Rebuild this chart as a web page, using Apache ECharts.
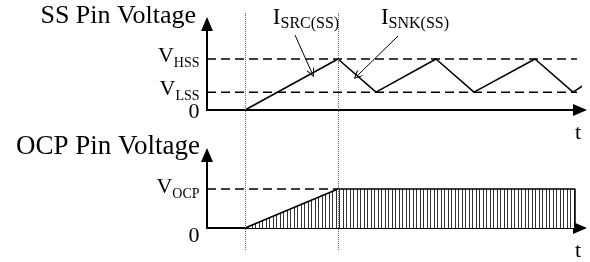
<!DOCTYPE html>
<html>
<head>
<meta charset="utf-8">
<script src="https://cdn.jsdelivr.net/npm/echarts@6/dist/echarts.min.js"></script>
<style>html,body{margin:0;padding:0;background:#fff}#chart{width:590px;height:262px}</style>
</head>
<body>
<div id="chart"></div>
<script>
// time in arbitrary units, voltages normalised to the upper threshold
var ssTime=[3.8,13.1,16.9,22.9,26.7,32.8,36.6,38.0];
var ssVolt=[0,1,0.35,1,0.35,1,0.35,0.53];
var ocpTime=[3.8,13.1,36.8,36.8];
var ocpVolt=[0,1,1,0];
var ssLevels=[0,0.35,1];
var ssLabels=[['0',''],['V','LSS'],['V','HSS']];
var ocpLevels=[0,1];
var ocpLabels=[['0',''],['V','OCP']];
var markTimes=[3.8,13.1];
var srcArrow=[[8.8,1.47],[10.5,0.725]];
var snkArrow=[[19.1,1.45],[15.0,0.667]];
var srcText=['I','SRC(SS)'];
var snkText=['I','SNK(SS)'];
var srcTextAt=[9.9,1.78];
var snkTextAt=[20.8,1.78];

var FONT='Liberation Serif';
function zip(a,b){var r=[];for(var i=0;i<a.length;i++)r.push([a[i],b[i]]);return r;}
function sub(p,big){
    var a=big?'V':'v',b=big?'S':'s';
    return p[1]?'{'+a+'|'+p[0]+'}{'+b+'|'+p[1]+'}':'{'+a+'|'+p[0]+'}';
}
var rich={
    v:{fontFamily:FONT,fontSize:22,color:'#000',verticalAlign:'bottom',padding:[0,0,3,0]},
    s:{fontFamily:FONT,fontSize:14,color:'#000',verticalAlign:'bottom'},
    V:{fontFamily:FONT,fontSize:23,color:'#000',verticalAlign:'bottom',padding:[0,0,3,0]},
    S:{fontFamily:FONT,fontSize:16,color:'#000',verticalAlign:'bottom'}
};
var hatch=document.createElement('canvas');
hatch.width=7;hatch.height=4;
var hc=hatch.getContext('2d');
hc.fillStyle='#fff';hc.fillRect(0,0,7,4);
hc.fillStyle='#333';hc.fillRect(0,0,1,4);hc.fillRect(3,0,1,4);

function xAx(idx,show){
    return {gridIndex:idx,type:'value',min:0,max:37.3,show:show,
        axisLine:{show:true,onZero:false,symbol:['none','triangle'],symbolSize:[12,14],lineStyle:{color:'#000',width:2}},
        axisTick:{show:false},axisLabel:{show:false},splitLine:{show:false},
        name:'t',nameLocation:'end',nameGap:-2,
        nameTextStyle:{fontFamily:FONT,fontSize:22,color:'#000',align:'center',verticalAlign:'top',padding:[12,0,0,0]}};
}
function yAx(idx,max,name,size,pad){
    return {gridIndex:idx,type:'value',min:0,max:max,
        axisLine:{show:true,symbol:['none','triangle'],symbolSize:[12,14],lineStyle:{color:'#000',width:2}},
        axisTick:{show:false},splitLine:{show:false},axisLabel:{show:false},
        name:name,nameLocation:'end',nameGap:8,
        nameTextStyle:{fontFamily:FONT,fontSize:size,color:'#000',align:'right',verticalAlign:'middle',padding:[0,pad,0,0]}};
}
var clear={color:'rgba(0,0,0,0)',opacity:1};
// level labels placed at x=0 of each panel, left of the y axis
function levelLabels(idx,levels,labels,zeroDy,subDy){
    return {type:'scatter',xAxisIndex:idx,yAxisIndex:idx,clip:false,silent:true,symbolSize:1,
        itemStyle:clear,
        label:{show:true,position:'left',distance:7,opacity:1,rich:rich,formatter:function(p){return sub(p.data.txt);}},
        data:levels.map(function(v,i){
            return {value:[0,v],txt:labels[i],label:{offset:[0,labels[i][1]?subDy:zeroDy]}};
        })};
}
var dashed={color:'#000',width:1.5,type:[9,5]};
var chevron='path://M0,0 L5,9 L4,9.6 L0,2.4 L-4,9.6 L-5,9 Z';

var option={
    animation:false,
    grid:[
        {left:207,top:24,width:373,height:86},
        {left:207,top:155,width:373,height:75},
        {left:207,top:13,width:373,height:237}
    ],
    xAxis:[xAx(0,true),xAx(1,true),{gridIndex:2,type:'value',min:0,max:37.3,show:false}],
    yAxis:[
        yAx(0,1.686,'SS Pin Voltage',26,11),
        yAx(1,1.875,'OCP Pin Voltage',27,7),
        {gridIndex:2,type:'value',min:0,max:1,show:false}
    ],
    series:[
        {type:'line',xAxisIndex:2,yAxisIndex:2,data:[],
            markLine:{silent:true,symbol:'none',label:{show:false},
                lineStyle:{color:'#666',width:1,type:[1,1]},
                data:markTimes.map(function(t){return {xAxis:t};})}},
        {type:'line',xAxisIndex:0,yAxisIndex:0,data:[[0,ssLevels[2]],[37,ssLevels[2]]],symbol:'none',lineStyle:dashed},
        {type:'line',xAxisIndex:0,yAxisIndex:0,data:[[0,ssLevels[1]],[37,ssLevels[1]]],symbol:'none',lineStyle:dashed},
        {type:'line',xAxisIndex:0,yAxisIndex:0,data:zip(ssTime,ssVolt),symbol:'none',clip:false,
            lineStyle:{color:'#000',width:1.5},
            markLine:{silent:true,symbol:['none',chevron],symbolSize:[8,9],label:{show:false},
                lineStyle:{color:'#000',width:1,type:'solid'},
                data:[[{coord:srcArrow[0]},{coord:srcArrow[1]}],[{coord:snkArrow[0]},{coord:snkArrow[1]}]]}},
        {type:'scatter',xAxisIndex:0,yAxisIndex:0,clip:false,silent:true,symbolSize:1,
            itemStyle:clear,
            label:{show:true,position:'inside',opacity:1,rich:rich,formatter:function(p){return sub(p.data.txt,true);}},
            data:[{value:srcTextAt,txt:srcText},{value:snkTextAt,txt:snkText}]},
        levelLabels(0,ssLevels,ssLabels,4,-1),
        levelLabels(1,ocpLevels,ocpLabels,10,0),
        {type:'line',xAxisIndex:1,yAxisIndex:1,data:[[0,ocpLevels[1]],[ocpTime[1],ocpLevels[1]]],symbol:'none',lineStyle:dashed},
        {type:'line',xAxisIndex:1,yAxisIndex:1,data:zip(ocpTime,ocpVolt),symbol:'none',
            lineStyle:{color:'#000',width:1.5},
            areaStyle:{color:{image:hatch,repeat:'repeat'},opacity:1}}
    ]
};
echarts.init(document.getElementById('chart')).setOption(option);
</script>
</body>
</html>
